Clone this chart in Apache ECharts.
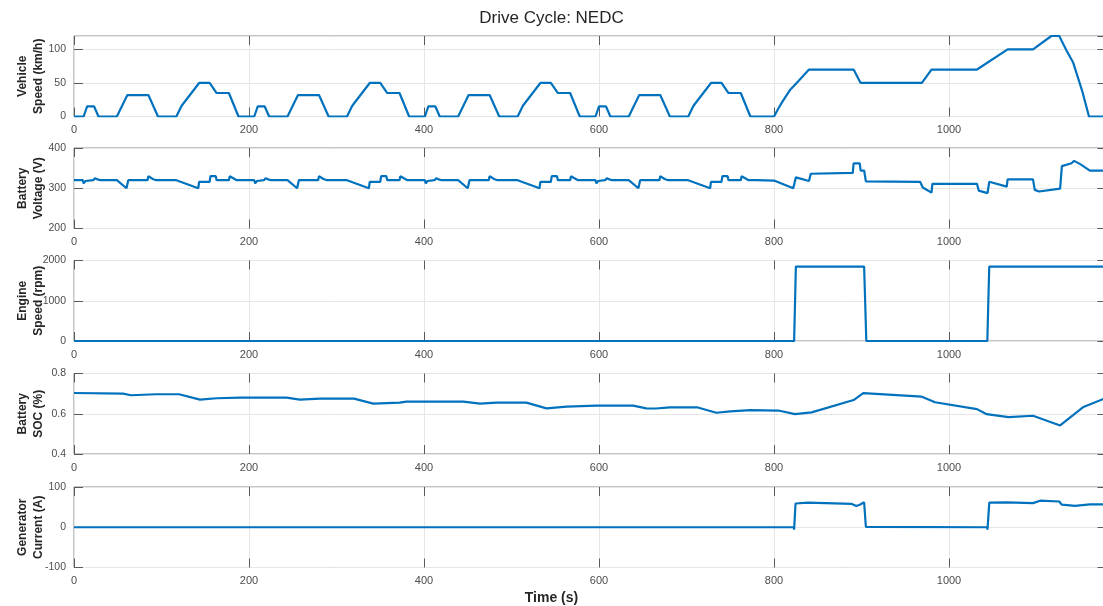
<!DOCTYPE html>
<html>
<head>
<meta charset="utf-8">
<script src="https://cdn.jsdelivr.net/npm/echarts@6/dist/echarts.min.js"></script>
<style>html,body{margin:0;padding:0;background:#fff}#c{width:1103px;height:606px}</style>
</head>
<body>
<div id="c"></div>
<script>
// ---- Data ----
const xTicks = [0, 200, 400, 600, 800, 1000];

const speedT = [0,11,15,23,28,49,61,85,96,117,123,143,155,163,177,188,195,
  206,210,218,223,244,256,280,291,312,318,338,350,358,372,383,390,
  401,405,413,418,439,451,475,486,507,513,533,545,553,567,578,585,
  596,600,608,613,634,646,670,681,702,708,728,740,748,762,773,780,
  800,805,810,818,828,840,891,899,969,980,1032,1067,1096,1117,1126,1134,1142,1152,1160,1180];
const speedV = [0,0,15,15,0,0,32,32,0,0,16,50,50,35,35,0,0,
  0,15,15,0,0,32,32,0,0,16,50,50,35,35,0,0,
  0,15,15,0,0,32,32,0,0,16,50,50,35,35,0,0,
  0,15,15,0,0,32,32,0,0,16,50,50,35,35,0,0,
  0,12,23,39,53,70,70,50,50,70,70,100,100,120,120,99,80,39,0,0];

const voltT = [0,10,11,13,14,22,24,27,30,49,60,61,62,84,85,90,94,117,142,143,155,156,162,163,177,178,186,
  195,206,207,209,210,217,219,222,225,244,255,256,257,279,280,285,289,312,337,338,350,351,357,358,372,373,381,
  390,401,402,404,405,412,414,417,420,439,450,451,452,474,475,480,484,507,532,533,545,546,552,553,567,568,576,
  585,596,597,599,600,607,609,612,615,634,645,646,647,669,670,675,679,702,727,728,740,741,747,748,762,763,771,780,
  800,822,823,825,840,842,890,891,898,899,903,905,967,970,980,981,1032,1034,1044,1046,1066,1067,1096,1098,1103,1127,1129,1140,1143,1150,1161,1180];
const voltV = [320,320,312,318,320,320,325,322,320,320,300,301,320,320,330,323,320,320,300,316,316,330,330,320,320,330,320,
  320,320,312,318,320,320,325,322,320,320,300,301,320,320,330,323,320,320,300,316,316,330,330,320,320,330,320,
  320,320,312,318,320,320,325,322,320,320,300,301,320,320,330,323,320,320,300,316,316,330,330,320,320,330,320,
  320,320,312,318,320,320,325,322,320,320,300,301,320,320,330,323,320,320,300,316,316,330,330,320,320,330,320,320,
  319,300,301,327,318,336,338,362,362,344,344,317,316,302,289,311,311,294,288,316,304,322,322,296,292,299,355,362,368,360,344,344];

const engT = [0,823,825,903,905.5,1043.8,1046,1180];
const engV = [0,0,1850,1850,0,0,1850,1850];

const socT = [0,56,65,94,120,144,163,190,243,258,281,320,342,350,372,380,445,464,483,517,540,563,597,639,654,665,681,712,734,750,773,805,824,843,891,902,969,984,1032,1043,1068,1096,1127,1153,1180];
const socV = [0.703,0.700,0.692,0.697,0.697,0.670,0.677,0.680,0.680,0.670,0.675,0.675,0.650,0.652,0.655,0.660,0.660,0.650,0.655,0.655,0.627,0.635,0.640,0.640,0.627,0.626,0.632,0.632,0.605,0.612,0.618,0.616,0.598,0.607,0.668,0.702,0.685,0.657,0.623,0.598,0.583,0.590,0.542,0.632,0.680];

const genT = [0,822.5,823,824.6,839,840,889,894,898,903,904,905,906,1043.5,1044,1046,1066,1068,1096,1104,1126,1129,1144,1161,1180];
const genV = [0,0,-6,59,61,58,58,53,56,62,62,1,0,0,-6,61,62,60,60,66,64,56,53,57,57];

const yNames = ['Vehicle\nSpeed (km/h)', 'Battery\nVoltage (V)', 'Engine\nSpeed (rpm)', 'Battery\nSOC (%)', 'Generator\nCurrent (A)'];
const yMin = [0, 200, 0, 0.4, -100];
const yMax = [120, 400, 2000, 0.8, 100];
const yInterval = [50, 100, 1000, 0.2, 100];
const seriesT = [speedT, voltT, engT, socT, genT];
const seriesV = [speedV, voltV, engV, socV, genV];

// ---- Layout / style ----
const FONT = 'Liberation Sans, Arial, Helvetica, sans-serif';
const tops = [36, 148, 260.5, 373.5, 487];
const H = 80.5, L = 74, W = 1032.5;
const boxColor = '#8a8a8a', tickColor = '#5a5a5a', labelColor = '#4d4d4d', gridColor = '#e6e6e6';
const lineColor = '#0072BD';

const grids = [], xAxes = [], yAxes = [], series = [];
tops.forEach((t, i) => {
  grids.push({left: L, width: W, top: t, height: H, show: true, borderColor: boxColor, borderWidth: 1,
    backgroundColor: 'transparent', containLabel: false, outerBoundsMode: 'none'});
  const base = {gridIndex: i, type: 'value', min: 0, max: 1180, interval: 200,
    axisLine: {show: false, onZero: false},
    axisTick: {show: true, inside: true, length: 9, lineStyle: {color: tickColor}}};
  xAxes.push(Object.assign({}, base, {position: 'bottom',
    axisLabel: {show: true, fontSize: 11, color: labelColor, fontFamily: FONT, margin: 8, showMaxLabel: false,
      formatter: v => xTicks.includes(v) ? String(v) : ''},
    splitLine: {show: true, lineStyle: {color: gridColor, width: 1}}}));
  xAxes.push(Object.assign({}, base, {position: 'top', axisLabel: {show: false}, splitLine: {show: false}}));
  const ybase = {gridIndex: i, type: 'value', min: yMin[i], max: yMax[i], interval: yInterval[i],
    axisLine: {show: false, onZero: false},
    axisTick: {show: true, inside: true, length: 9, lineStyle: {color: tickColor}}};
  yAxes.push(Object.assign({}, ybase, {position: 'left',
    axisLabel: {show: true, fontSize: 10.5, color: labelColor, fontFamily: FONT, margin: 8, showMaxLabel: i !== 0,
      formatter: v => i === 3 ? v.toFixed(1) : String(v)},
    splitLine: {show: true, lineStyle: {color: gridColor, width: 1}},
    name: yNames[i], nameLocation: 'middle', nameRotate: 90, nameGap: 27, nameMoveOverlap: false,
    nameTextStyle: {fontWeight: 'bold', fontSize: 12, color: '#262626', fontFamily: FONT, lineHeight: 16}}));
  yAxes.push(Object.assign({}, ybase, {position: 'right', axisLabel: {show: false}, splitLine: {show: false}}));
  series.push({type: 'line', xAxisIndex: i * 2, yAxisIndex: i * 2, showSymbol: false, symbol: 'none',
    lineStyle: {color: lineColor, width: 2.2}, itemStyle: {color: lineColor},
    data: seriesT[i].map((x, k) => [x, seriesV[i][k]]), animation: false});
});

const chart = echarts.init(document.getElementById('c'), null, {renderer: 'canvas'});
chart.setOption({
  animation: false,
  backgroundColor: '#fff',
  title: [
    {text: 'Drive Cycle: NEDC', left: 'center', top: 5, textStyle: {fontSize: 17, fontWeight: 'normal', color: '#262626', fontFamily: FONT}},
    {text: 'Time (s)', left: 'center', top: 586, textStyle: {fontSize: 14, fontWeight: 'bold', color: '#262626', fontFamily: FONT}}
  ],
  grid: grids, xAxis: xAxes, yAxis: yAxes, series: series
});
</script>
</body>
</html>
